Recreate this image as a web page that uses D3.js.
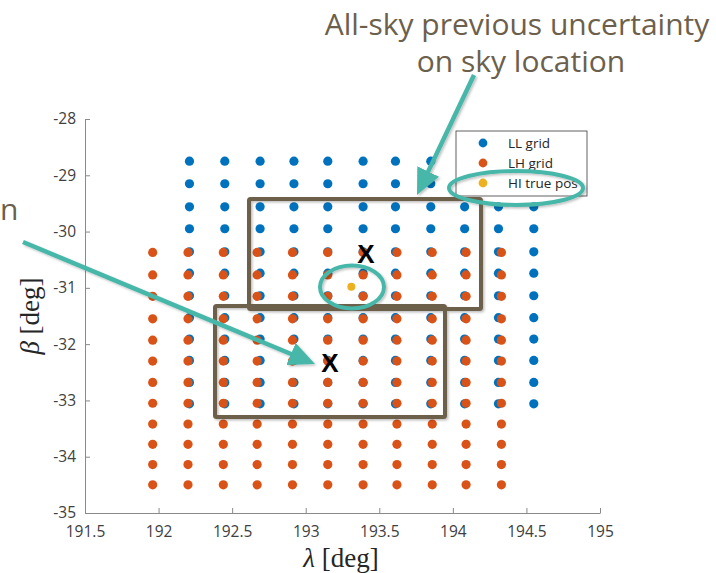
<!DOCTYPE html>
<html>
<head>
<meta charset="utf-8">
<script src="https://cdn.jsdelivr.net/npm/d3@7"></script>
<style>
  body { margin: 0; background: #fff; }
  svg { display: block; }
</style>
</head>
<body>
<svg id="chart" width="716" height="573"></svg>
<script>
// grid values
var llLambda = [192.21, 192.45, 192.69, 192.92, 193.15, 193.39, 193.61, 193.85, 194.08, 194.31, 194.55];
var llBeta   = [-28.75, -29.15, -29.56, -29.95, -30.36, -30.74, -31.14, -31.53, -31.91, -32.29, -32.68, -33.06];
var lhLambda = [191.96, 192.20, 192.44, 192.67, 192.91, 193.15, 193.39, 193.62, 193.86, 194.09, 194.33];
var lhBeta   = [-30.37, -30.77, -31.15, -31.55, -31.93, -32.30, -32.68, -33.05, -33.42, -33.78, -34.14, -34.50];
var hiTrue   = [[193.31, -30.98]];

var xTicks = [191.5, 192, 192.5, 193, 193.5, 194, 194.5, 195];
var yTicks = [-35, -34, -33, -32, -31, -30, -29, -28];

var legendLabels = ["LL grid", "LH grid", "HI true pos"];
var legendColors = ["#0072BD", "#D95319", "#EDB120"];

var svg = d3.select("#chart");

var x = d3.scaleLinear().domain([191.5, 195]).range([85, 600]);
var y = d3.scaleLinear().domain([-35, -28]).range([513, 119]);

var axisColor = "#8a8a8a";
var labelColor = "#404040";
var brown = "#6c604c";
var teal = "#47b7aa";

// defs: arrowhead + soft shadow (slide overlay look)
var defs = svg.append("defs");
var f = defs.append("filter").attr("id", "shadow").attr("x", "-20%").attr("y", "-20%").attr("width", "140%").attr("height", "140%");
f.append("feDropShadow").attr("dx", 1.5).attr("dy", 1.5).attr("stdDeviation", 1.2)
  .attr("flood-color", "#000").attr("flood-opacity", 0.25);

defs.append("marker")
  .attr("id", "head")
  .attr("viewBox", "0 0 26 24")
  .attr("refX", 4).attr("refY", 12)
  .attr("markerWidth", 26).attr("markerHeight", 24)
  .attr("markerUnits", "userSpaceOnUse")
  .attr("orient", "auto")
  .append("path")
  .attr("d", "M0,0 L26,12 L0,24 Z")
  .attr("fill", teal);

// axes
var xAxis = d3.axisBottom(x).tickValues(xTicks).tickSizeInner(-5).tickSizeOuter(0).tickPadding(13)
  .tickFormat(function(d) { return String(d); });
var yAxis = d3.axisLeft(y).tickValues(yTicks).tickSizeInner(-5).tickSizeOuter(0).tickPadding(9)
  .tickFormat(function(d) { return String(d); });

var gx = svg.append("g").attr("transform", "translate(0," + y(-35) + ")").call(xAxis);
var gy = svg.append("g").attr("transform", "translate(" + x(191.5) + ",0)").call(yAxis);

[gx, gy].forEach(function(g) {
  g.select(".domain").attr("stroke", axisColor).attr("stroke-width", 1);
  g.selectAll(".tick line").attr("stroke", axisColor);
  g.selectAll(".tick text")
   .attr("fill", labelColor)
   .style("font-family", "'Open Sans', 'Noto Sans', sans-serif")
   .style("font-size", "15.5px");
});

// axis labels (LaTeX look)
svg.append("text")
  .attr("x", 341).attr("y", 567)
  .attr("text-anchor", "middle")
  .style("font-family", "'Liberation Serif', 'DejaVu Serif', serif")
  .style("font-size", "27px")
  .attr("fill", "#262626")
  .html("<tspan font-style='italic'>λ</tspan> [deg]");

svg.append("text")
  .attr("transform", "translate(39,316) rotate(-90)")
  .attr("text-anchor", "middle")
  .style("font-family", "'Liberation Serif', 'DejaVu Serif', serif")
  .style("font-size", "27px")
  .attr("fill", "#262626")
  .html("<tspan font-style='italic'>β</tspan> [deg]");

// grids
function cross(ls, bs) {
  var out = [];
  ls.forEach(function(l) { bs.forEach(function(b) { out.push([l, b]); }); });
  return out;
}

svg.append("g").selectAll("circle")
  .data(cross(llLambda, llBeta))
  .enter().append("circle")
  .attr("cx", function(d) { return x(d[0]); })
  .attr("cy", function(d) { return y(d[1]); })
  .attr("r", 4.6)
  .attr("fill", legendColors[0]);

svg.append("g").selectAll("circle")
  .data(cross(lhLambda, lhBeta))
  .enter().append("circle")
  .attr("cx", function(d) { return x(d[0]); })
  .attr("cy", function(d) { return y(d[1]); })
  .attr("r", 4.6)
  .attr("fill", legendColors[1]);

svg.append("g").selectAll("circle")
  .data(hiTrue)
  .enter().append("circle")
  .attr("cx", function(d) { return x(d[0]); })
  .attr("cy", function(d) { return y(d[1]); })
  .attr("r", 4)
  .attr("fill", legendColors[2]);

// legend
var lg = svg.append("g").attr("transform", "translate(456,131)");
lg.append("rect").attr("width", 131).attr("height", 65)
  .attr("fill", "#fff").attr("stroke", "#3a3a3a").attr("stroke-width", 0.8);
var items = lg.selectAll(".item").data(legendLabels).enter().append("g")
  .attr("transform", function(d, i) { return "translate(0," + (12 + i * 20) + ")"; });
items.append("circle").attr("cx", 27).attr("cy", 0).attr("r", 4.4)
  .attr("fill", function(d, i) { return legendColors[i]; });
items.append("text").attr("x", 52).attr("y", 4.8)
  .text(function(d) { return d; })
  .attr("fill", "#262626")
  .style("font-family", "'Open Sans', 'Noto Sans', sans-serif")
  .style("font-size", "13.5px");

// slide overlays
var ov = svg.append("g").attr("filter", "url(#shadow)");

ov.append("rect").attr("x", 249).attr("y", 199).attr("width", 232).attr("height", 110)
  .attr("rx", 1.5).attr("fill", "none").attr("stroke", brown).attr("stroke-width", 4);
ov.append("rect").attr("x", 215).attr("y", 306).attr("width", 230).attr("height", 111)
  .attr("rx", 1.5).attr("fill", "none").attr("stroke", brown).attr("stroke-width", 4);

ov.append("ellipse").attr("cx", 516).attr("cy", 188).attr("rx", 67).attr("ry", 17)
  .attr("fill", "none").attr("stroke", teal).attr("stroke-width", 4);
ov.append("ellipse").attr("cx", 352).attr("cy", 287).attr("rx", 32).attr("ry", 21.5)
  .attr("fill", "none").attr("stroke", teal).attr("stroke-width", 4);

function arrow(x0, y0, x1, y1) {
  var dx = x1 - x0, dy = y1 - y0, len = Math.sqrt(dx * dx + dy * dy);
  var ex = x1 - dx / len * 22, ey = y1 - dy / len * 22;
  ov.append("line").attr("x1", x0).attr("y1", y0).attr("x2", ex).attr("y2", ey)
    .attr("stroke", teal).attr("stroke-width", 4.5)
    .attr("marker-end", "url(#head)");
}
arrow(474, 75, 417, 195);
arrow(23, 242, 315, 364);

// X marks
svg.append("text").attr("x", 366).attr("y", 263).attr("text-anchor", "middle")
  .style("font-family", "'Liberation Sans', Arial, sans-serif").style("font-weight", "bold")
  .style("font-size", "26px").attr("fill", "#000").text("X");
svg.append("text").attr("x", 330).attr("y", 372).attr("text-anchor", "middle")
  .style("font-family", "'Liberation Sans', Arial, sans-serif").style("font-weight", "bold")
  .style("font-size", "26px").attr("fill", "#000").text("X");

// annotation text
var ann = svg.append("g")
  .style("font-family", "'Open Sans', 'Noto Sans', sans-serif")
  .style("font-size", "30px")
  .attr("fill", brown);
ann.append("text").attr("x", 517).attr("y", 35).attr("text-anchor", "middle")
  .text("All-sky previous uncertainty");
ann.append("text").attr("x", 521).attr("y", 72).attr("text-anchor", "middle")
  .text("on sky location");
ann.append("text").attr("x", 0).attr("y", 220).text("n");
</script>
</body>
</html>
